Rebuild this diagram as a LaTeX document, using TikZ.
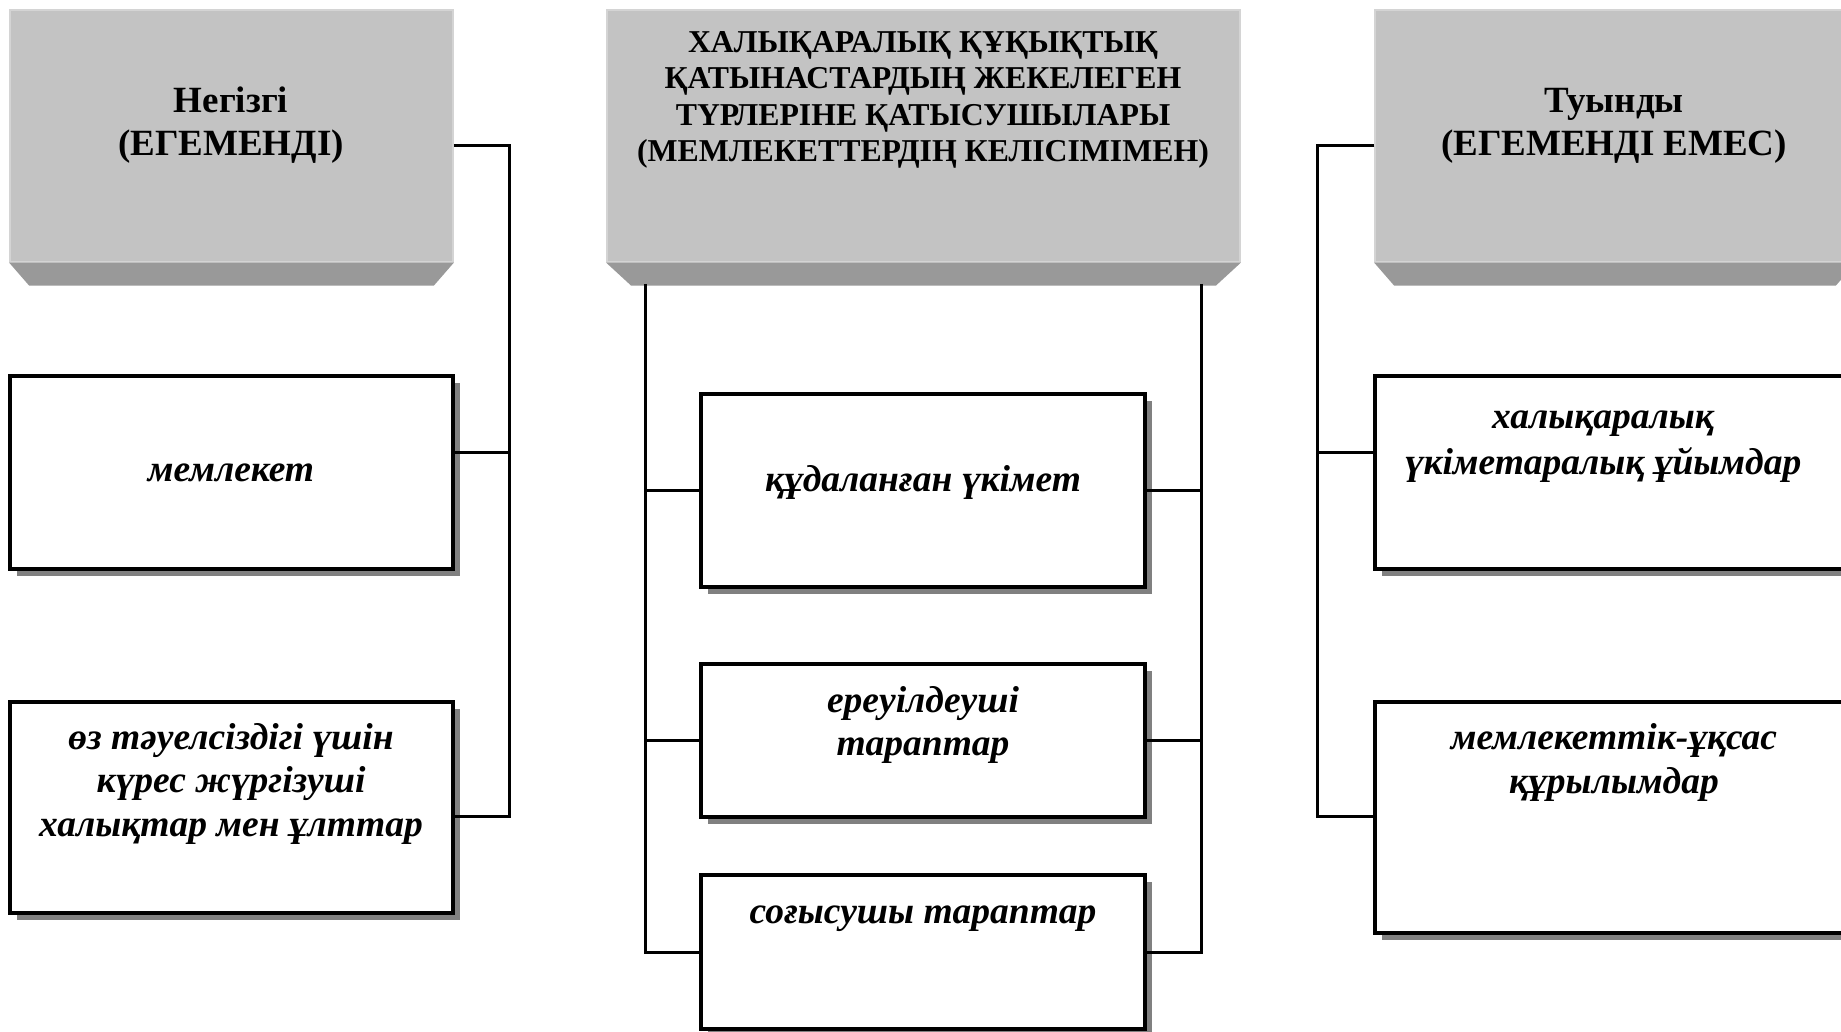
\documentclass[tikz,border=0pt]{standalone}
\usepackage{fontspec}
\setmainfont{Liberation Serif}
\usetikzlibrary{calc,shadows}
\definecolor{face}{RGB}{195,195,195}
\definecolor{bevel}{RGB}{153,153,153}
\definecolor{faceedge}{RGB}{212,212,212}
\definecolor{shade}{RGB}{128,128,128}
\tikzset{
 hdr/.style={rectangle, fill=face, draw=faceedge, line width=1.5pt, inner sep=0pt},
 boxn/.style={rectangle, draw=black, fill=white, line width=3.5pt, inner sep=0pt,
   drop shadow={shadow xshift=7pt, shadow yshift=-7pt, fill=shade, opacity=1}},
 conn/.style={draw=black, line width=3pt},
 htext/.style={font=\fontsize{37}{43}\selectfont\bfseries, align=center, inner sep=0pt},
 ctext/.style={font=\fontsize{31.8}{36.5}\selectfont\bfseries, align=center, inner sep=0pt},
 btext/.style={font=\fontsize{37.5}{43.5}\selectfont\bfseries\itshape, align=center, inner sep=0pt},
}
\begin{document}
\begin{tikzpicture}[x=1pt,y=-1pt]
\clip (0,0) rectangle (1841,1032);
\fill[white] (0,0) rectangle (1841,1032);

% headers
\node[hdr, minimum width=443pt, minimum height=252pt] (h1) at (231.5,136) {};
\fill[bevel] (h1.south west) -- (h1.south east) -- ++(-20,23) -- ($(h1.south west)+(20,23)$) -- cycle;
\node[hdr, minimum width=633pt, minimum height=252pt] (h2) at (923.5,136) {};
\fill[bevel] (h2.south west) -- (h2.south east) -- ++(-25,23) -- ($(h2.south west)+(25,23)$) -- cycle;
\node[hdr, minimum width=480pt, minimum height=252pt] (h3) at (1615,136) {};
\fill[bevel] (h3.south west) -- (h3.south east) -- ++(-20,23) -- ($(h3.south west)+(20,23)$) -- cycle;

\node[htext] (th1) at (231,125.5) {Негізгі\\(ЕГЕМЕНДІ)};
\node[ctext] (th2) at (923,100) {ХАЛЫҚАРАЛЫҚ ҚҰҚЫҚТЫҚ\\ҚАТЫНАСТАРДЫҢ ЖЕКЕЛЕГЕН\\ТҮРЛЕРІНЕ ҚАТЫСУШЫЛАРЫ\\(МЕМЛЕКЕТТЕРДІҢ КЕЛІСІМІМЕН)};
\node[htext] (th3) at (1614,125.5) {Туынды\\(ЕГЕМЕНДІ ЕМЕС)};

% boxes
\node[boxn, minimum width=443pt, minimum height=193pt] (b1) at (231.5,472.5) {};
\node[boxn, minimum width=443pt, minimum height=211pt] (b2) at (231.5,807.5) {};
\node[boxn, minimum width=444pt, minimum height=193pt] (c1) at (923,490.5) {};
\node[boxn, minimum width=444pt, minimum height=153pt] (c2) at (923,740.5) {};
\node[boxn, minimum width=444pt, minimum height=154pt] (c3) at (923,952) {};
\node[boxn, minimum width=480pt, minimum height=193pt] (r1) at (1615,472.5) {};
\node[boxn, minimum width=480pt, minimum height=231pt] (r2) at (1615,817.5) {};

\node[btext] (tb1) at (231,473) {мемлекет};
\node[btext] (tb2) at (231,783.5) {өз тәуелсіздігі үшін\\күрес жүргізуші\\халықтар мен ұлттар};
\node[btext] (tc1) at (923,482) {құдаланған үкімет};
\node[btext] (tc2) at (923,725) {ереуілдеуші\\тараптар};
\node[btext] (tc3) at (923,918.5) {соғысушы тараптар};
\node[btext, font=\fontsize{37.5}{46}\selectfont\bfseries\itshape] (tr1) at (1603,447) {халықаралық\\үкіметаралық ұйымдар};
\node[btext] (tr2) at (1614,762.5) {мемлекеттік-ұқсас\\құрылымдар};

% left connectors
\coordinate (L1) at (509,146);
\coordinate (L2) at (509,452);
\coordinate (L3) at (509,816);
\draw[conn] (h1.east |- L1) -- (L1) -- (L3) -- (b2.east |- L3);
\draw[conn] (b1.east |- L2) -- (L2);

% centre connectors
\coordinate (CL) at (645,284);
\coordinate (CR) at (1201,284);
\draw[conn] (CL) -- (CL |- c3.west) -- (c3.west);
\draw[conn] (c1.west) -- (CL |- c1.west);
\draw[conn] (c2.west) -- (CL |- c2.west);
\draw[conn] (CR) -- (CR |- c3.east) -- (c3.east);
\draw[conn] (c1.east) -- (CR |- c1.east);
\draw[conn] (c2.east) -- (CR |- c2.east);

% right connectors
\coordinate (R1) at (1317,146);
\coordinate (R2) at (1317,452);
\coordinate (R3) at (1317,816);
\draw[conn] (h3.west |- R1) -- (R1) -- (R3) -- (r2.west |- R3);
\draw[conn] (R2) -- (r1.west |- R2);
\end{tikzpicture}
\end{document}
